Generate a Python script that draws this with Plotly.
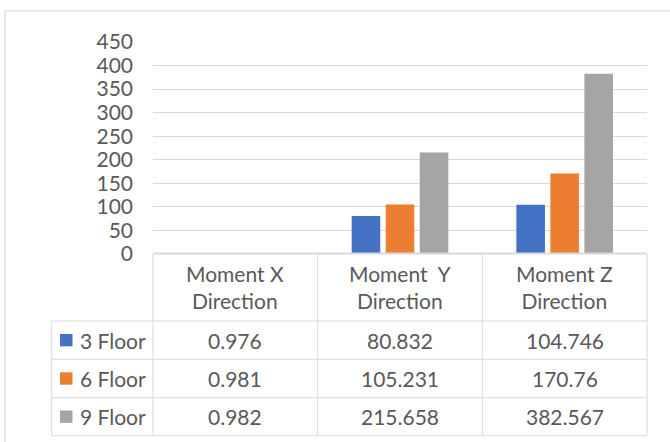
import plotly.graph_objects as go

categories = ["Moment X<br>Direction", "Moment \u00a0Y<br>Direction", "Moment Z<br>Direction"]
series_names = ["3 Floor", "6 Floor", "9 Floor"]
floor3 = [0.976, 80.832, 104.746]
floor6 = [0.981, 105.231, 170.76]
floor9 = [0.982, 215.658, 382.567]
value_labels = [["0.976", "80.832", "104.746"],
                ["0.981", "105.231", "170.76"],
                ["0.982", "215.658", "382.567"]]
colors = ["#4472C4", "#ED7D31", "#A5A5A5"]
tick_vals = [0, 50, 100, 150, 200, 250, 300, 350, 400, 450]

W, H = 670, 442
L, R, T, B = 153, 23, 42, 188
PW, PH = W - L - R, H - T - B
FONT = "Lato"
TXT = "#595959"
GRID = "#D9D9D9"


def px_x(p):
    return (p - L) / PW


def px_y(p):
    return (H - B - p) / PH


fig = go.Figure()
xs = list(range(len(categories)))
for name, vals, col in zip(series_names, [floor3, floor6, floor9], colors):
    fig.add_trace(go.Bar(x=xs, y=vals, name=name, marker=dict(color=col, line=dict(width=0))))

shapes = []
annotations = []

# table geometry (pixels)
row_lines = [H - B, 321, 359.3, 397.7, 435.7]
table_left = 51.7
line = dict(color=GRID, width=1)

# header top line (slightly heavier so it sits over the base of the bars, as in the reference)
shapes.append(dict(type="line", xref="paper", yref="paper", x0=0, x1=1,
                   y0=px_y(row_lines[0] - 0.5), y1=px_y(row_lines[0] - 0.5),
                   line=dict(color=GRID, width=2)))
# horizontal lines of data rows
for r in row_lines[1:]:
    shapes.append(dict(type="line", xref="paper", yref="paper", x0=px_x(table_left), x1=1,
                       y0=px_y(r), y1=px_y(r), line=line))
# vertical lines at category boundaries
n = len(categories)
for i in range(n + 1):
    shapes.append(dict(type="line", xref="paper", yref="paper", x0=i / n, x1=i / n,
                       y0=px_y(row_lines[0]), y1=px_y(row_lines[-1]), line=line))
# legend column left line
shapes.append(dict(type="line", xref="paper", yref="paper", x0=px_x(table_left), x1=px_x(table_left),
                   y0=px_y(row_lines[1]), y1=px_y(row_lines[-1]), line=line))
# outer chart frame
shapes.append(dict(type="rect", xref="paper", yref="paper", x0=px_x(5), x1=px_x(W + 20),
                   y0=px_y(H + 20), y1=px_y(11), line=dict(color=GRID, width=1.2),
                   fillcolor="rgba(0,0,0,0)", layer="below"))

# header labels
hdr_center = (row_lines[0] + row_lines[1]) / 2
for i, c in enumerate(categories):
    annotations.append(dict(x=i, xref="x", y=px_y(hdr_center - 1), yref="paper", text=c,
                            showarrow=False, xanchor="center", yanchor="middle",
                            font=dict(family=FONT, size=21, color=TXT)))

# data rows
for j, name in enumerate(series_names):
    yc = (row_lines[j + 1] + row_lines[j + 2]) / 2
    shapes.append(dict(type="rect", xref="paper", yref="paper",
                       x0=px_x(60), x1=px_x(72.5), y0=px_y(yc + 6.2), y1=px_y(yc - 6.2),
                       fillcolor=colors[j], line=dict(width=0)))
    annotations.append(dict(x=px_x(78), xref="paper", y=px_y(yc), yref="paper", text=name,
                            showarrow=False, xanchor="left", yanchor="middle",
                            font=dict(family=FONT, size=21, color=TXT)))
    for i in range(n):
        annotations.append(dict(x=i, xref="x", y=px_y(yc), yref="paper", text=value_labels[j][i],
                                showarrow=False, xanchor="center", yanchor="middle",
                                font=dict(family=FONT, size=21, color=TXT)))

fig.update_layout(
    width=W, height=H,
    margin=dict(l=L, r=R, t=T, b=B, pad=0),
    paper_bgcolor="white", plot_bgcolor="white",
    barmode="group", bargap=0.38, bargroupgap=0.16,
    showlegend=False,
    shapes=shapes, annotations=annotations,
    font=dict(family=FONT, size=21, color=TXT),
    xaxis=dict(range=[-0.5, n - 0.5], showticklabels=False, showgrid=False, zeroline=False,
               showline=False, ticks=""),
    yaxis=dict(range=[0, 450], tickvals=tick_vals, showgrid=True, gridcolor=GRID, gridwidth=1.3,
               zeroline=False, showline=False, ticks="", ticklabelstandoff=19,
               tickfont=dict(family=FONT, size=21, color=TXT)),
)

fig.write_html("out.html")
